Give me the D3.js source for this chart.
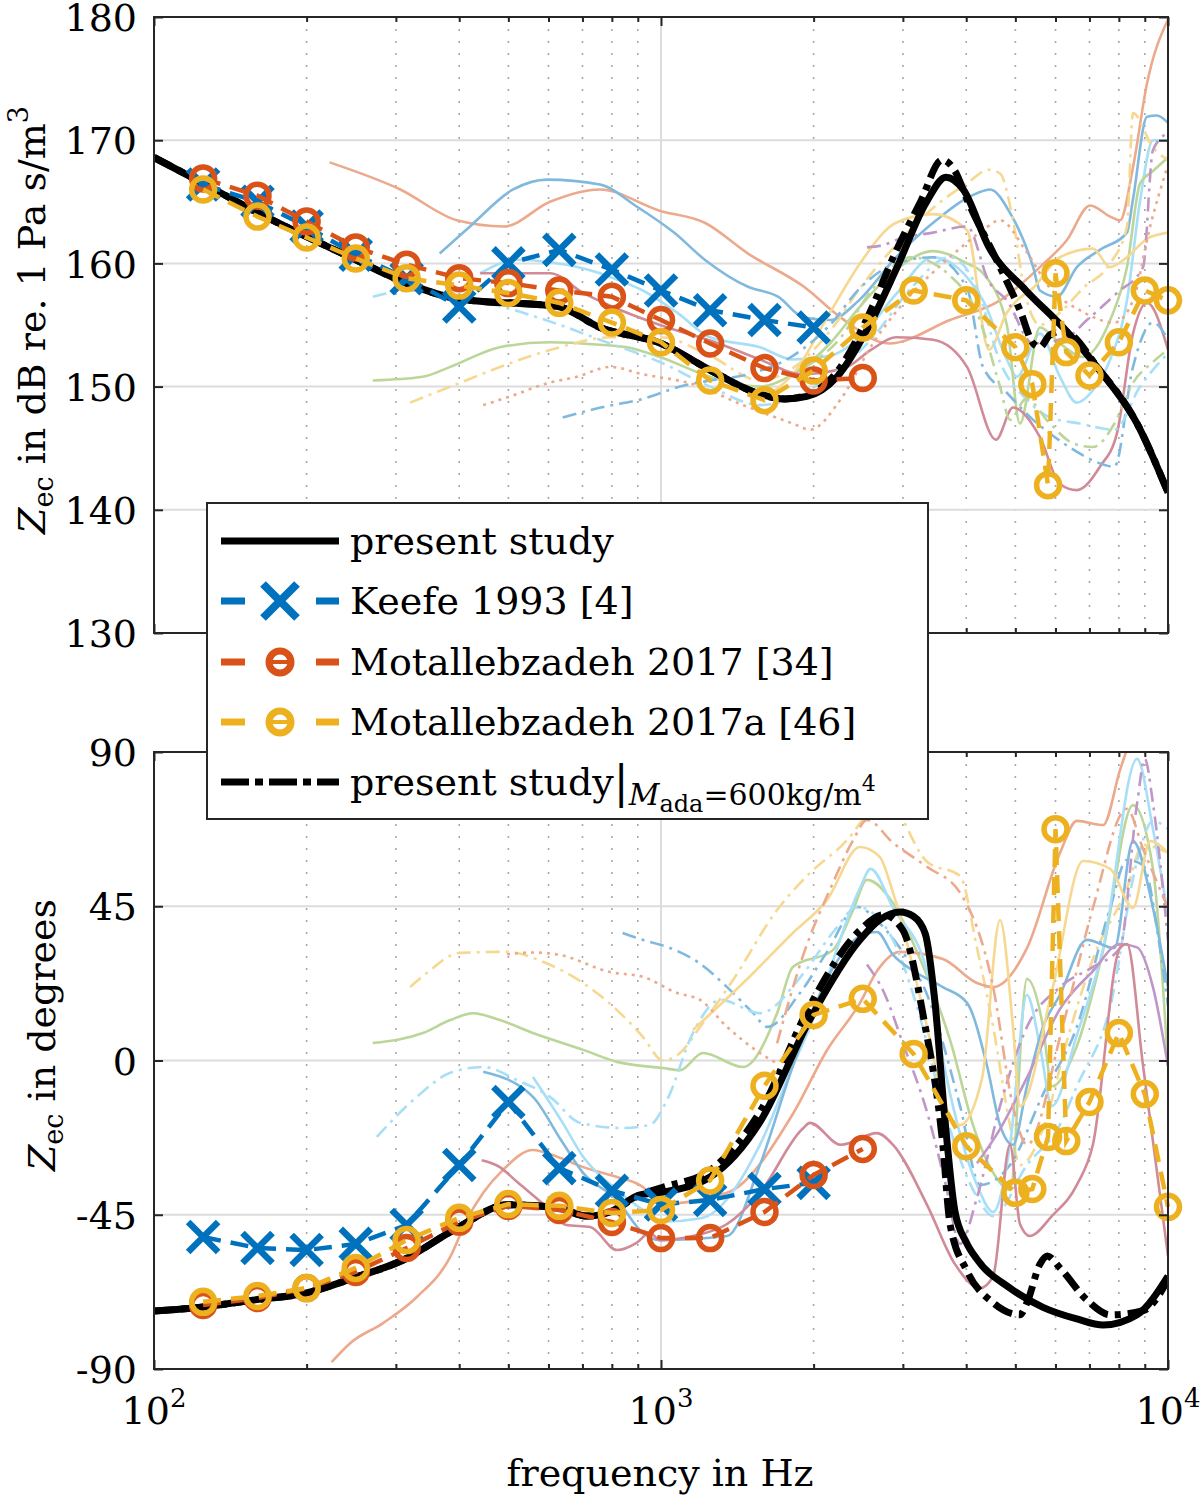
<!DOCTYPE html>
<html>
<head>
<meta charset="utf-8">
<script src="https://cdn.jsdelivr.net/npm/d3@7"></script>
<style>
  body { margin: 0; background: #fff; }
  text { font-family: "DejaVu Serif", "Liberation Serif", serif; fill: #000; }
</style>
</head>
<body>
<svg id="chart" width="1200" height="1498"></svg>
<script>
// ---------------------------------------------------------------------------
// Data (frequency in Hz)

// one-third octave band centres used by the literature data
const keefeFreq = [125, 160, 200, 250, 315, 400, 500, 630, 800, 1000, 1250, 1600, 2000];
const keefeMag = [166.4, 165.0, 163.0, 160.7, 158.8, 156.5, 160.0, 161.1, 159.5, 157.8, 156.2, 155.4, 154.8];
const keefePhase = [-51.5, -54.7, -55.3, -53.5, -48.0, -30.5, -12.1, -31.4, -38.0, -42.0, -40.7, -37.5, -35.7];

const motFreq = [125, 160, 200, 250, 315, 400, 500, 630, 800, 1000, 1250, 1600, 2000, 2500];
const motMag = [166.9, 165.5, 163.4, 161.3, 159.9, 158.8, 158.4, 157.8, 157.3, 155.4, 153.5, 151.5, 150.5, 150.7];
const motPhase = [-71.3, -69.3, -66.4, -61.7, -54.7, -47.0, -42.4, -43.6, -47.1, -51.8, -51.8, -44.2, -33.4, -25.8];

const motAFreq = [125, 160, 200, 250, 315, 400, 500, 630, 800, 1000, 1250, 1600, 2000, 2500, 3150, 4000,
  5000, 5400, 5800, 6000, 6300, 7000, 8000, 9000, 10000];
const motAMag = [166.0, 163.8, 162.1, 160.4, 158.8, 158.2, 157.6, 156.8, 155.2, 153.6, 150.5, 148.9, 151.3,
  154.8, 157.8, 157.0, 153.2, 150.2, 142.0, 159.2, 152.8, 150.9, 153.6, 157.8, 157.0];
const motAPhase = [-70.4, -68.7, -66.4, -60.5, -52.4, -45.9, -41.9, -42.4, -44.5, -43.6, -35.0, -7.4, 13.3,
  18.0, 1.9, -25.0, -38.6, -37.5, -22.3, 67.5, -23.5, -12.1, 8.0, -9.8, -42.7];

// present study (model)
const modelMagFreq = [100, 125, 157, 197, 247, 310, 389, 446, 499, 626, 758, 1000, 1255, 1540, 1756, 1940,
  2225, 2548, 2908, 3331, 3648, 3944, 4436, 5248, 6210, 7340, 8690, 10000];
const modelMag = [168.6, 166.5, 164.3, 162.3, 160.4, 158.5, 157.2, 156.9, 156.8, 156.5, 154.8, 153.5, 151.3,
  149.5, 149.0, 149.2, 150.8, 154.6, 159.5, 164.9, 167.0, 166.0, 161.3, 157.8, 154.8, 151.3, 147.0, 141.4];
const modelPhaseFreq = [100, 125, 157, 200, 247, 310, 396, 499, 626, 714, 793, 909, 1009, 1250, 1567, 1967,
  2469, 2700, 2960, 3150, 3320, 3470, 3630, 3800, 4000, 4200, 4880, 5670, 6610, 7450, 8690, 10000];
const modelPhase = [-73.1, -71.9, -69.9, -67.8, -63.5, -58.2, -48.9, -42.1, -43.0, -45.4, -44.2, -39.2, -38.4,
  -34.0, -18.0, 12.0, 35.2, 41.0, 43.3, 42.0, 37.0, 17.0, -17.0, -44.0, -53.0, -58.0, -66.4, -72.0, -75.4,
  -77.2, -74.2, -62.9];

// present study with M_ada = 600 kg/m^4
const adaMagFreq = [100, 125, 157, 197, 247, 310, 389, 446, 499, 626, 758, 1000, 1255, 1540, 1756, 1940,
  2225, 2548, 2908, 3250, 3582, 3800, 4014, 4663, 5105, 5420, 5590, 5850, 6210, 7340, 8690, 10000];
const adaMag = [168.6, 166.5, 164.3, 162.3, 160.4, 158.5, 157.2, 156.9, 156.8, 156.5, 154.8, 153.5, 151.3,
  149.5, 149.0, 149.3, 151.2, 155.5, 161.0, 165.0, 168.4, 167.5, 165.2, 159.7, 156.2, 153.5, 153.2, 154.2,
  154.5, 151.3, 147.0, 141.4];
const adaPhaseFreq = [100, 125, 157, 200, 247, 310, 396, 499, 626, 714, 793, 909, 1009, 1250, 1567, 1967,
  2469, 2750, 3000, 3300, 3597, 3716, 4014, 4520, 5105, 5270, 5590, 5780, 6120, 6920, 7690, 8930, 10000];
const adaPhase = [-73.1, -71.9, -69.9, -67.8, -63.5, -58.2, -48.9, -42.1, -43.0, -45.4, -44.2, -39.2, -37.0,
  -32.0, -15.0, 16.0, 38.0, 42.5, 38.0, 12.0, -24.6, -47.7, -61.4, -70.7, -74.2, -70.7, -59.4, -57.0, -60.5,
  -69.9, -74.2, -73.0, -64.0];

// individual measured ears (faint background traces), [frequency, dB]
const magSalmonSolid = [[222,168.2],[306,166],[396,163.5],[490,163],[604,165],[758,166],[990,164.3],[1220,163.3],
  [1485,160.8],[1914,158.1],[2264,155.6],[2817,153.5],[3716,155.4],[4663,157],[5590,159.7],[6320,161.9],
  [7020,164.7],[7690,163.8],[8040,163.5],[8530,167.8],[9090,174.6],[10000,179.8]];
const magBlueSolid = [[366,160.8],[420,163],[511,166],[596,166.8],[758,166.4],[897,164.6],[1061,162.5],
  [1220,160.3],[1485,158.1],[1701,157.3],[1914,155.6],[2154,155.4],[2457,157],[2908,160.5],[3490,163.5],
  [4200,165.7],[4455,166],[4880,164.1],[5420,159.7],[5590,157.8],[6040,157.3],[6610,159.7],[7340,161.1],
  [8300,162.5],[8530,165.2],[9090,171.9],[9510,172],[10000,171.4]];
const magCyanSolid = [[440,159.2],[520,160.3],[604,160.1],[758,159.2],[793,158.9],[921,157.8],[1076,156],
  [1250,154],[1567,153.2],[1820,152.2],[2154,152.5],[2469,154],[2908,157.5],[3440,160.5],[4316,157],
  [4810,152.2],[5036,150.8],[5590,154.3],[6120,150.8],[6610,148.7],[7110,149.7],[7690,152.2],[8300,157],
  [8810,165.1],[9340,170],[10000,170]];
const magGreenSolid = [[270,150.5],[339,150.8],[384,151.6],[481,153.2],[604,153.6],[758,153.4],[857,153.2],
  [995,152.4],[1250,150.8],[1567,150],[1820,151],[2154,153.5],[2469,156.5],[2908,159.5],[3440,161],
  [4014,160],[4316,159.2],[4810,155],[5105,147],[5590,154.8],[6120,153.5],[6800,152.4],[7690,155.4],
  [8300,159.7],[8810,166.5],[9340,167.5],[10000,168.6]];
const magYellowDashDot = [[320,148.7],[401,150.3],[504,151.9],[632,153.2],[793,154],[995,154],[1250,152.5],
  [1567,150.5],[1820,151.5],[2154,154.5],[2469,158],[2908,161.5],[3440,164.5],[4014,166.5],[4436,167.6],
  [4663,167.3],[4946,163.5],[5200,158],[5590,155],[6120,156],[6800,158],[7690,160],[8300,163],[8530,172.2],
  [9340,169.4],[10000,168.4]];
const magYellowSolid = [[1567,149],[1820,151],[2154,156],[2469,160],[2908,163.3],[3440,164],[4014,162.7],
  [4436,153],[4810,156],[5036,157],[5420,158],[6120,160.5],[7110,161.2],[7690,159.7],[8300,160.5],
  [9090,162],[10000,162.5]];
const magPurpleDashDot = [[2548,161.3],[2750,161.5],[2960,162],[3440,162.5],[4014,163],[4436,158.5],
  [4810,157],[5420,153.5],[6320,154],[6920,155.4],[7930,157.6],[8930,159.7],[9340,169.2],[10000,170.6]];
const magRedSolid = [[440,159.2],[604,159.2],[702,157.6],[800,156.5],[995,155],[1300,153.5],[1567,152.2],
  [1900,151],[2300,151.5],[2600,153],[2908,154],[3440,153.8],[4014,151.6],[4578,145.7],[4946,148.3],
  [5590,145.9],[6120,142.1],[6610,141.6],[7340,143.5],[7930,146.2],[8530,154.3],[9090,156.8],[10000,153]];
const magBlueDashDot = [[640,147.5],[760,148.3],[921,149],[1090,150],[1250,150.5],[1485,151],[1820,152.5],
  [2154,155],[2469,158],[2908,160],[3440,160.5],[4014,158],[4316,151.6],[4810,149.5],[5420,147.3],
  [5850,146.2],[6494,144.9],[7110,144],[7840,143.5],[8530,151.6],[9340,155.2],[10000,153.8]];
const magSalmonDotted = [[446,148.5],[504,149.2],[600,150.3],[683,150.8],[793,151.6],[921,151],[1156,150.2],
  [1452,148.5],[1820,147],[1967,146.5],[2264,149],[2618,153.5],[3116,157.5],[3716,160.5],[4316,162.7],
  [4663,163.5],[5248,161],[5850,158],[6700,156.2],[7840,155.2],[8530,157],[9220,163],[10000,168]];
const magCyanDashDot = [[270,157.3],[320,157.8],[401,157.2],[504,156.3],[632,155],[793,153.5],[995,152],
  [1250,150],[1567,148.5],[1914,149.5],[2264,151.5],[2618,154],[3116,158],[3716,160.5],[4200,158],
  [4663,152],[5248,149],[5850,147.5],[6700,147],[7840,146.5],[8810,150],[10000,152.7]];
const magGreenDashDot = [[1914,151.5],[2264,154],[2618,158],[3116,160.5],[3716,159],[4200,156],[4663,150],
  [4880,147.3],[5248,149],[5850,147],[6494,145.4],[7110,145.1],[7840,147],[8530,150.3],[9340,152],
  [10000,153]];

// individual measured ears (faint background traces), [frequency, degrees]
const phYellowDashDot = [[320,21.4],[345,25.5],[401,31.4],[497,31.7],[585,28.8],[702,22.6],[819,14.7],
  [921,6.9],[1009,0],[1090,2.2],[1194,9.8],[1387,23.5],[1694,43.9],[1967,54.7],[2328,64.3],[2618,74],
  [2750,77],[3347,58],[3890,53.8],[4200,32.8],[4520,9.8],[4880,-18.8],[5105,-30.5],[5670,-20],[6300,5],
  [7110,29.6],[8300,50.3],[8930,62.9],[10000,60.5]];
const phGreenSolid = [[270,5.1],[339,8],[384,11.8],[426,13.8],[481,11.8],[559,8],[702,3.1],[819,-0.4],
  [1009,-2.2],[1090,-2.8],[1210,2.2],[1452,-1.9],[1694,13.8],[1820,27.3],[2183,32.2],[2393,43.9],
  [2548,52.7],[2869,45.9],[3250,29.3],[3716,6],[4150,-20],[4550,-33.4],[4880,-37.8],[5270,23.8],
  [5670,9.8],[5900,-7.5],[6610,4.2],[7450,32.2],[8530,74.5],[9340,55.9],[10000,-1.6]];
const phSalmonSolid = [[224,-88],[244,-82.4],[283,-76.6],[330,-69],[384,-57.3],[414,-46.5],[446,-38.6],
  [488,-31.9],[559,-26.1],[624,-28.1],[702,-31.1],[819,-34],[921,-36.9],[995,-41.9],[1350,-38.6],
  [1820,-15.6],[2125,3],[2469,16.8],[2667,26.1],[2960,31.7],[3597,29.6],[4200,22.6],[4520,21.4],
  [5270,32.8],[6120,60.5],[6610,69.9],[7450,68.7],[8040,84.7],[8420,93.5]];
const phBlueDashDot = [[840,37.2],[920,35.2],[1030,33.1],[1190,28.4],[1350,21.4],[1520,13.8],[1620,9.8],
  [1880,19.7],[2120,31.4],[2440,44.8],[2700,40],[2960,32.8],[3350,19.1],[3890,-13.3],[4260,-36.3],
  [4880,-30.5],[5670,-9.8],[6610,9.8],[7690,44.5],[8300,58.5],[8930,57],[9640,32.8],[10000,15.9]];
const phCyanDashDot = [[275,-22.3],[330,-10.6],[384,-3.6],[446,-1.9],[520,-5.7],[604,-10.6],[693,-18.2],
  [841,-19.7],[950,-18.8],[1028,-11.5],[1156,8],[1310,17.7],[1567,13.8],[1900,25],[2200,38],[2440,44.8],
  [2800,38],[3200,15.6],[3597,-13.3],[4200,-39.8],[4520,-45.4],[5270,-30.5],[6120,-18.8],[6610,-7.5],
  [7690,15.6],[8690,58.2],[9340,69.9],[10000,67.5]];
const phCyanSolid = [[559,-4.8],[640,-18.2],[702,-28.1],[819,-37.8],[921,-43.6],[1009,-47],[1200,-46],
  [1567,-24.6],[1820,-1.6],[1967,9.8],[2469,50.3],[2590,55.9],[2869,44.5],[3347,26.1],[3645,-3.9],
  [4200,-36.3],[4520,-44.2],[4880,-24.6],[5270,19.1],[5590,4.2],[5900,-13.3],[6610,7.4],[7450,32.8],
  [8690,88],[9340,67.5],[10000,42.2]];
const phBlueSolid = [[446,-3.3],[559,-10.6],[635,-23.2],[702,-32.8],[819,-40.7],[921,-50.3],[995,-52.4],
  [1350,-51.2],[1567,-30.5],[1820,-1.6],[2125,23.8],[2469,36.3],[2667,37.5],[2869,30.8],[3150,26.1],
  [3597,21.4],[4014,16.8],[4397,-1.6],[4663,-18.8],[4946,-24.6],[5270,-7.5],[5670,9.8],[6120,19.1],
  [6920,35.2],[7840,32.8],[8530,64],[9340,44.5],[10000,21.4]];
const phPurpleDashDot = [[2548,28],[2750,20],[3000,5],[3347,-15],[3645,-36.3],[3890,-53.5],[4200,-40],
  [4663,-13.3],[5270,9.8],[6120,21.4],[7110,27.3],[8040,32.8],[8690,75],[9000,88],[9340,75],[10000,35]];
const phPurpleSolid = [[4200,-30],[4663,-20],[5270,-5],[6120,15],[7110,26.1],[8040,34],[8690,33],
  [9340,21.4],[10000,-1.6]];
const phRedSolid = [[443,-29.1],[481,-31.1],[520,-35.4],[604,-43.6],[650,-48],[725,-48.6],[819,-55.3],
  [895,-53.2],[950,-50.3],[995,-52.4],[1156,-51.2],[1350,-47.7],[1567,-38.6],[1900,-20],[1967,-18.2],
  [2264,-24.6],[2667,-21.2],[2869,-24.6],[3347,-42.1],[3800,-59.4],[4260,-66.4],[4520,-62.9],
  [4880,-24.6],[5105,-47.7],[5340,-51.2],[5900,-45.4],[6610,-36.3],[7110,-24.6],[8040,32.8],[8300,34],
  [8930,-1.6],[10000,-57]];
const phYellowSolid = [[1156,8.9],[1452,22.6],[1820,37.2],[2125,46.8],[2469,62.3],[2700,59.4],[2869,48.9],
  [3347,9.8],[3597,-11],[3890,-18.8],[4300,-5],[4663,41],[4946,9.8],[5105,-13.3],[5900,20],[6800,58.2],
  [7690,55.9],[8530,44.5],[9220,64],[10000,60.5]];
const phSalmonDotted = [[497,31],[560,31.5],[632,30.8],[793,25.8],[921,24.4],[1076,19.7],[1194,17.7],
  [1350,9.8],[1567,2.2],[1694,-0.8]];
const phSalmonDashDot = [[1694,5],[1900,30],[2183,51.8],[2393,64.3],[2548,70.2],[2869,63.5],[3347,56.5],
  [3890,48.9],[4520,21.4],[4946,-13.3],[5270,-24.6],[6200,10],[7110,44.5],[8300,73.4],[8930,61.7],
  [10000,44.5]];

// tick values
const magTicks = [130, 140, 150, 160, 170, 180];
const phaseTicks = [-90, -45, 0, 45, 90];
const decadeTicks = [100, 1000, 10000];
const minorTicks = [200, 300, 400, 500, 600, 700, 800, 900, 2000, 3000, 4000, 5000, 6000, 7000, 8000, 9000];

const legendLabels = ['present study', 'Keefe 1993 [4]', 'Motallebzadeh 2017 [34]', 'Motallebzadeh 2017a [46]'];

// ---------------------------------------------------------------------------
// Styles

const colors = {
  keefe: '#0072BD', mot: '#D95319', motA: '#EDB120',
  blue: '#80B9DE', salmon: '#ECA98C', yellow: '#F6D890', purple: '#BF97C7',
  green: '#BBD698', cyan: '#A6DFF7', red: '#D18A97'
};
const dashes = { solid: null, dashdot: '14,6,3,6', dotted: '3,5', dashed: '10,6' };
const FONT = 38;

const magBackground = [
  [magSalmonSolid, 'salmon', 'solid'], [magBlueSolid, 'blue', 'solid'], [magCyanSolid, 'cyan', 'solid'],
  [magGreenSolid, 'green', 'solid'], [magYellowDashDot, 'yellow', 'dashdot'], [magYellowSolid, 'yellow', 'solid'],
  [magPurpleDashDot, 'purple', 'dashdot'], [magRedSolid, 'red', 'solid'], [magBlueDashDot, 'blue', 'dashdot'],
  [magSalmonDotted, 'salmon', 'dotted'], [magCyanDashDot, 'cyan', 'dashdot'], [magGreenDashDot, 'green', 'dashdot']
];
const phaseBackground = [
  [phYellowDashDot, 'yellow', 'dashdot'], [phGreenSolid, 'green', 'solid'], [phSalmonSolid, 'salmon', 'solid'],
  [phBlueDashDot, 'blue', 'dashdot'], [phCyanDashDot, 'cyan', 'dashdot'], [phCyanSolid, 'cyan', 'solid'],
  [phBlueSolid, 'blue', 'solid'], [phPurpleDashDot, 'purple', 'dashdot'], [phPurpleSolid, 'purple', 'solid'],
  [phRedSolid, 'red', 'solid'], [phYellowSolid, 'yellow', 'solid'], [phSalmonDotted, 'salmon', 'dotted'],
  [phSalmonDashDot, 'salmon', 'dashdot']
];

// ---------------------------------------------------------------------------
// Scales

const svg = d3.select('#chart');
const x = d3.scaleLog().domain([100, 10000]).range([154, 1168]);
const yMag = d3.scaleLinear().domain([130, 180]).range([633, 17]);
const yPhase = d3.scaleLinear().domain([-90, 90]).range([1369, 752]);

const zip = (f, v) => f.map((d, i) => [d, v[i]]);
const xPath = (s) => `M${-s},${-s}L${s},${s}M${-s},${s}L${s},${-s}`;

function drawPanel(name, y, ticks, background, series) {
  const [y0, y1] = y.range();
  const g = svg.append('g').attr('class', `panel-${name}`);

  g.append('clipPath').attr('id', `clip-${name}`)
    .append('rect').attr('x', 154).attr('y', y1).attr('width', 1014).attr('height', y0 - y1);

  // grid
  g.append('g').selectAll('line').data(minorTicks).join('line')
    .attr('x1', d => x(d)).attr('x2', d => x(d)).attr('y1', y1).attr('y2', y0)
    .attr('stroke', '#a8a8a8').attr('stroke-width', 1.6).attr('stroke-dasharray', '2,10');
  g.append('g').selectAll('line').data([1000]).join('line')
    .attr('x1', d => x(d)).attr('x2', d => x(d)).attr('y1', y1).attr('y2', y0)
    .attr('stroke', '#dcdcdc').attr('stroke-width', 2);
  g.append('g').selectAll('line').data(ticks).join('line')
    .attr('x1', 154).attr('x2', 1168).attr('y1', d => y(d)).attr('y2', d => y(d))
    .attr('stroke', '#dcdcdc').attr('stroke-width', 2);

  const plot = g.append('g').attr('clip-path', `url(#clip-${name})`);
  const line = d3.line().x(d => x(d[0])).y(d => y(d[1])).curve(d3.curveMonotoneX);

  // measured ears
  plot.selectAll('.bg').data(background).join('path')
    .attr('class', 'bg')
    .attr('d', d => line(d[0]))
    .attr('fill', 'none')
    .attr('stroke', d => colors[d[1]])
    .attr('stroke-width', 2.6)
    .attr('stroke-dasharray', d => dashes[d[2]]);

  // present study
  plot.append('path').attr('d', line(series.model))
    .attr('fill', 'none').attr('stroke', '#000').attr('stroke-width', 7);
  plot.append('path').attr('d', line(series.ada))
    .attr('fill', 'none').attr('stroke', '#000').attr('stroke-width', 7)
    .attr('stroke-dasharray', '20,7,6,7');

  // literature
  const lit = [
    [series.keefe, colors.keefe, 'x'],
    [series.mot, colors.mot, 'o'],
    [series.motA, colors.motA, 'o']
  ];
  lit.forEach(([pts, col, mk]) => {
    const lg = g.append('g');
    lg.append('path').attr('d', d3.line().x(d => x(d[0])).y(d => y(d[1]))(pts))
      .attr('fill', 'none').attr('stroke', col).attr('stroke-width', 4.5)
      .attr('stroke-dasharray', '18,10');
    if (mk === 'x') {
      lg.selectAll('path.mk').data(pts).join('path').attr('class', 'mk')
        .attr('d', xPath(15))
        .attr('transform', d => `translate(${x(d[0])},${y(d[1])})`)
        .attr('stroke', col).attr('stroke-width', 6.5).attr('fill', 'none');
    } else {
      lg.selectAll('circle').data(pts).join('circle')
        .attr('cx', d => x(d[0])).attr('cy', d => y(d[1])).attr('r', 11.5)
        .attr('fill', 'none').attr('stroke', col).attr('stroke-width', 5.5);
    }
  });

  // axes box and ticks
  const ax = g.append('g').attr('class', 'axes');
  ax.append('rect').attr('x', 154).attr('y', y1).attr('width', 1014).attr('height', y0 - y1)
    .attr('fill', 'none').attr('stroke', '#262626').attr('stroke-width', 2);

  const left = ax.append('g').attr('transform', 'translate(154,0)')
    .call(d3.axisLeft(y).tickValues(ticks).tickSize(-9).tickPadding(17).tickFormat(d => d));
  const right = ax.append('g').attr('transform', 'translate(1168,0)')
    .call(d3.axisRight(y).tickValues(ticks).tickSize(-9).tickFormat(''));
  [[y0, d3.axisBottom], [y1, d3.axisTop]].forEach(([yy, axisFn]) => {
    ax.append('g').attr('transform', `translate(0,${yy})`)
      .call(axisFn(x).tickValues(decadeTicks).tickSize(-9).tickFormat(''));
    ax.append('g').attr('transform', `translate(0,${yy})`)
      .call(axisFn(x).tickValues(minorTicks).tickSize(-5).tickFormat(''));
  });
  ax.selectAll('.domain').remove();
  ax.selectAll('.tick line').attr('stroke', '#262626').attr('stroke-width', 2);
  left.selectAll('text').attr('font-size', FONT).attr('font-family', '"DejaVu Serif", serif')
    .attr('fill', '#000').attr('dy', '0.36em');
  right.selectAll('text').remove();
}

drawPanel('mag', yMag, magTicks, magBackground, {
  model: zip(modelMagFreq, modelMag),
  ada: zip(adaMagFreq, adaMag),
  keefe: zip(keefeFreq, keefeMag),
  mot: zip(motFreq, motMag),
  motA: zip(motAFreq, motAMag)
});

drawPanel('phase', yPhase, phaseTicks, phaseBackground, {
  model: zip(modelPhaseFreq, modelPhase),
  ada: zip(adaPhaseFreq, adaPhase),
  keefe: zip(keefeFreq, keefePhase),
  mot: zip(motFreq, motPhase),
  motA: zip(motAFreq, motAPhase)
});

// x tick labels 10^n
const xl = svg.append('g').selectAll('text').data(decadeTicks).join('text')
  .attr('x', d => x(d)).attr('y', 1424).attr('text-anchor', 'middle').attr('font-size', FONT);
xl.append('tspan').text('10');
xl.append('tspan').attr('dy', -17).attr('font-size', 26).text(d => Math.round(Math.log10(d)));

// axis labels
svg.append('text').attr('x', 660).attr('y', 1486).attr('text-anchor', 'middle')
  .attr('font-size', FONT).text('frequency in Hz');

const ylab1 = svg.append('text').attr('transform', 'translate(45,320) rotate(-90)')
  .attr('text-anchor', 'middle').attr('font-size', FONT);
ylab1.append('tspan').attr('font-style', 'italic').text('Z');
ylab1.append('tspan').attr('font-size', 27).attr('dy', 8).text('ec');
ylab1.append('tspan').attr('dy', -8).text(' in dB re. 1 Pa s/m');
ylab1.append('tspan').attr('font-size', 27).attr('dy', -17).text('3');

const ylab2 = svg.append('text').attr('transform', 'translate(55,1035) rotate(-90)')
  .attr('text-anchor', 'middle').attr('font-size', FONT);
ylab2.append('tspan').attr('font-style', 'italic').text('Z');
ylab2.append('tspan').attr('font-size', 27).attr('dy', 8).text('ec');
ylab2.append('tspan').attr('dy', -8).text(' in degrees');

// ---------------------------------------------------------------------------
// Legend
const lg = svg.append('g').attr('class', 'legend');
lg.append('rect').attr('x', 207).attr('y', 503).attr('width', 721).attr('height', 316)
  .attr('fill', '#fff').attr('stroke', '#262626').attr('stroke-width', 2);
const rowY = [541, 601, 662, 722, 782];

lg.append('line').attr('x1', 221).attr('x2', 339).attr('y1', rowY[0]).attr('y2', rowY[0])
  .attr('stroke', '#000').attr('stroke-width', 7);
[[colors.keefe, 'x'], [colors.mot, 'o'], [colors.motA, 'o']].forEach(([col, mk], i) => {
  const yy = rowY[i + 1];
  lg.append('line').attr('x1', 221).attr('x2', 339).attr('y1', yy).attr('y2', yy)
    .attr('stroke', col).attr('stroke-width', 7).attr('stroke-dasharray', '24,71');
  if (mk === 'x') {
    lg.append('path').attr('d', xPath(17)).attr('transform', `translate(280,${yy})`)
      .attr('stroke', col).attr('stroke-width', 8).attr('fill', 'none');
  } else {
    lg.append('circle').attr('cx', 280).attr('cy', yy).attr('r', 11)
      .attr('fill', 'none').attr('stroke', col).attr('stroke-width', 7);
    lg.append('line').attr('x1', 272).attr('x2', 288).attr('y1', yy).attr('y2', yy)
      .attr('stroke', col).attr('stroke-width', 4);
  }
});
lg.append('line').attr('x1', 221).attr('x2', 339).attr('y1', rowY[4]).attr('y2', rowY[4])
  .attr('stroke', '#000').attr('stroke-width', 7).attr('stroke-dasharray', '28,6,8,6');

legendLabels.forEach((t, i) => {
  lg.append('text').attr('x', 350).attr('y', rowY[i] + 13).attr('font-size', FONT).text(t);
});
const last = lg.append('text').attr('x', 350).attr('y', rowY[4] + 13).attr('font-size', FONT);
last.append('tspan').text('present study');
last.append('tspan').attr('font-size', 44).attr('dy', 2).text('|');
last.append('tspan').attr('font-size', 30).attr('font-style', 'italic').attr('dy', 8).text('M');
last.append('tspan').attr('font-size', 24).attr('dy', 7).text('ada');
last.append('tspan').attr('font-size', 30).attr('dy', -7).text('=600kg/m');
last.append('tspan').attr('font-size', 22).attr('dy', -14).text('4');
</script>
</body>
</html>
